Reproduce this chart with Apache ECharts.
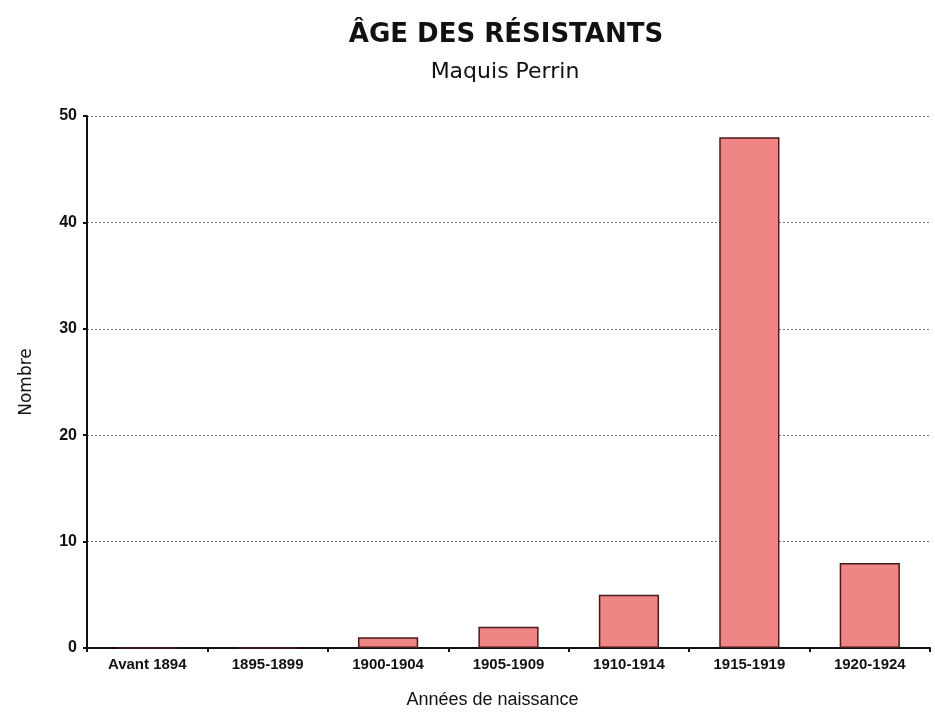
<!DOCTYPE html>
<html>
<head>
<meta charset="utf-8">
<script src="https://cdn.jsdelivr.net/npm/echarts@6/dist/echarts.min.js"></script>
<style>html,body{margin:0;padding:0;background:#fff}#c{width:935px;height:721px}</style>
</head>
<body>
<div id="c"></div>
<script>
const categories = ["Avant 1894", "1895-1899", "1900-1904", "1905-1909", "1910-1914", "1915-1919", "1920-1924"];
const values = [0, 0, 1, 2, 5, 48, 8];
const yTicks = [0, 10, 20, 30, 40, 50];

const font = "'Liberation Sans', Arial, sans-serif";
const wide = "'DejaVu Sans', sans-serif";
const chart = echarts.init(document.getElementById('c'));
chart.setOption({
  backgroundColor: '#ffffff',
  animation: false,
  title: [
    {text: 'ÂGE DES RÉSISTANTS', left: 501, top: 17, textAlign: 'center',
     textStyle: {fontFamily: wide, fontSize: 26, fontWeight: 'bold', color: '#111'}},
    {text: 'Maquis Perrin', left: 500, top: 56, textAlign: 'center',
     textStyle: {fontFamily: wide, fontSize: 22, fontWeight: 'normal', color: '#111'}}
  ],
  grid: {left: 87, right: 5, top: 116, bottom: 73, containLabel: false},
  xAxis: {
    type: 'category',
    data: categories,
    name: 'Années de naissance',
    nameLocation: 'middle',
    nameGap: 43,
    nameTextStyle: {fontFamily: font, fontSize: 18, color: '#111', padding: [0, 32, 0, 0]},
    axisLine: {lineStyle: {color: '#111', width: 2}},
    axisTick: {show: true, alignWithLabel: false, length: 4, lineStyle: {color: '#111', width: 2}},
    axisLabel: {fontFamily: font, fontSize: 15, fontWeight: 'bold', color: '#111', margin: 9, interval: 0},
    splitLine: {show: false}
  },
  yAxis: {
    type: 'value',
    min: yTicks[0],
    max: yTicks[yTicks.length - 1],
    interval: 10,
    name: 'Nombre',
    nameLocation: 'middle',
    nameGap: 52,
    nameRotate: 90,
    nameTextStyle: {fontFamily: wide, fontSize: 17, color: '#111'},
    axisLine: {show: true, lineStyle: {color: '#111', width: 2}},
    axisTick: {show: true, length: 4, lineStyle: {color: '#111', width: 2}},
    axisLabel: {fontFamily: font, fontSize: 16, fontWeight: 'bold', color: '#111', margin: 10},
    splitLine: {show: true, lineStyle: {color: '#777', type: [2, 2], width: 1}}
  },
  series: [{
    type: 'bar',
    data: values,
    barWidth: '50%',
    itemStyle: {color: '#ef8585', borderColor: '#4a1a1a', borderWidth: 1.5}
  }]
});
</script>
</body>
</html>
